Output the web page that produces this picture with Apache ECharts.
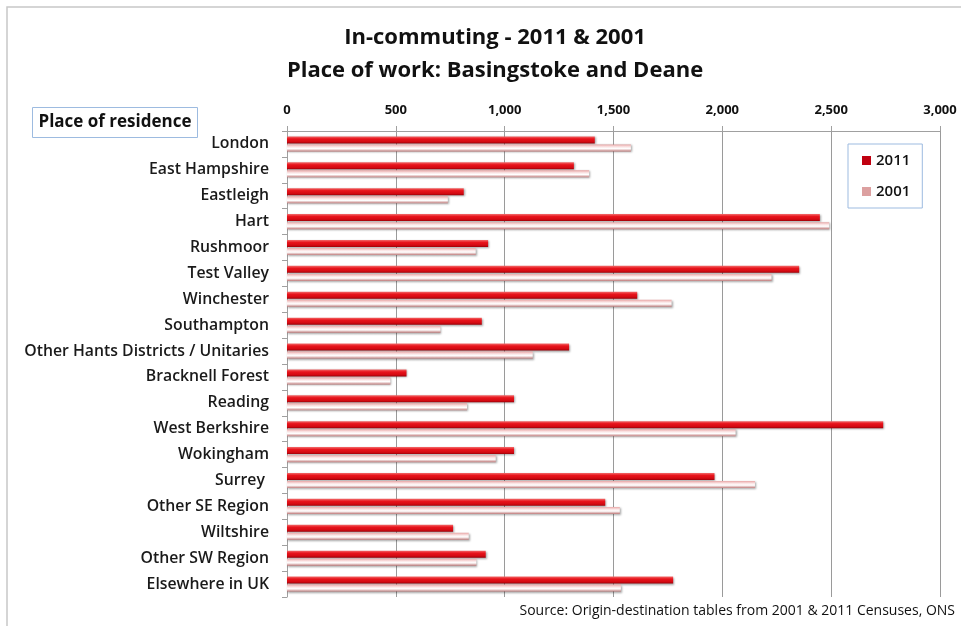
<!DOCTYPE html>
<html>
<head>
<meta charset="utf-8">
<script src="https://cdn.jsdelivr.net/npm/echarts@6/dist/echarts.min.js"></script>
<style>
  html, body { margin: 0; padding: 0; background: #ffffff; }
  #chart { width: 961px; height: 626px; }
</style>
</head>
<body>
<div id="chart"></div>
<script>
// Place of residence of people working in Basingstoke and Deane
var categories = [
  'London', 'East Hampshire', 'Eastleigh', 'Hart', 'Rushmoor', 'Test Valley',
  'Winchester', 'Southampton', 'Other Hants Districts / Unitaries', 'Bracknell Forest',
  'Reading', 'West Berkshire', 'Wokingham', 'Surrey ', 'Other SE Region',
  'Wiltshire', 'Other SW Region', 'Elsewhere in UK'
];
var values2011 = [1414, 1318, 812, 2448, 924, 2353, 1609, 895, 1296, 549, 1043, 2739, 1043, 1964, 1462, 763, 913, 1774];
var values2001 = [1580, 1388, 739, 2491, 867, 2226, 1767, 705, 1129, 475, 827, 2061, 959, 2150, 1529, 835, 870, 1534];
var axisTicks = [0, 500, 1000, 1500, 2000, 2500, 3000];

var FONT = '"Open Sans", Lato, sans-serif';

function fmt(v) {
  return v.toString().replace(/\B(?=(\d{3})+(?!\d))/g, ',');
}

var red2011 = new echarts.graphic.LinearGradient(0, 0, 0, 1, [
  { offset: 0, color: '#f26a6a' },
  { offset: 0.35, color: '#e8141c' },
  { offset: 0.75, color: '#d40a12' },
  { offset: 1, color: '#9c0008' }
]);
var pink2001 = new echarts.graphic.LinearGradient(0, 0, 0, 1, [
  { offset: 0, color: '#e9a7a7' },
  { offset: 0.35, color: '#fbe6e6' },
  { offset: 0.6, color: '#ffffff' },
  { offset: 1, color: '#c07a7a' }
]);

var chart = echarts.init(document.getElementById('chart'), null, { renderer: 'canvas' });

chart.setOption({
  animation: false,
  backgroundColor: '#ffffff',
  title: {
    text: 'In-commuting - 2011 & 2001\nPlace of work: Basingstoke and Deane',
    left: 490,
    textAlign: 'center',
    top: 16,
    textStyle: {
      fontFamily: FONT,
      fontSize: 22,
      fontWeight: 'bold',
      color: '#111',
      lineHeight: 33
    }
  },
  legend: {
    orient: 'vertical',
    left: 848,
    top: 144,
    width: 79,
    padding: [9, 12, 9, 14],
    itemGap: 16,
    itemWidth: 9,
    itemHeight: 9,
    borderColor: '#9dbbe0',
    borderWidth: 1,
    icon: 'rect',
    data: [
      { name: '2011', itemStyle: { color: '#c00010' } },
      { name: '2001', itemStyle: { color: '#dca0a0' } }
    ],
    textStyle: { fontFamily: FONT, fontSize: 15, fontWeight: 600, color: '#111' }
  },
  grid: { left: 287, right: 21, top: 131, bottom: 29, containLabel: false },
  xAxis: {
    type: 'value',
    position: 'top',
    min: 0,
    max: 3000,
    interval: 500,
    axisLine: { show: true, lineStyle: { color: '#a0a0a0', width: 1 } },
    axisTick: { show: true, length: 5, lineStyle: { color: '#a0a0a0' } },
    splitLine: { show: true, lineStyle: { color: '#9a9a9a', width: 1 } },
    axisLabel: {
      margin: 14,
      fontFamily: FONT,
      fontSize: 13,
      fontWeight: 'bold',
      color: '#111',
      formatter: function (v) { return axisTicks.indexOf(v) >= 0 ? fmt(v) : ''; }
    }
  },
  yAxis: {
    type: 'category',
    inverse: true,
    data: categories,
    axisLine: { show: true, lineStyle: { color: '#a0a0a0', width: 1 } },
    axisTick: { show: true, length: 5, lineStyle: { color: '#a0a0a0' } },
    axisLabel: {
      margin: 18,
      fontFamily: FONT,
      fontSize: 15.8,
      fontWeight: 600,
      color: '#1a1a1a'
    }
  },
  series: [
    {
      name: '2011',
      type: 'bar',
      data: values2011,
      barWidth: 7,
      barGap: '15%',
      itemStyle: {
        color: red2011,
        shadowColor: 'rgba(0,0,0,0.35)',
        shadowBlur: 2,
        shadowOffsetX: 1,
        shadowOffsetY: 1
      }
    },
    {
      name: '2001',
      type: 'bar',
      data: values2001,
      barWidth: 7,
      itemStyle: {
        color: pink2001,
        shadowColor: 'rgba(0,0,0,0.35)',
        shadowBlur: 2,
        shadowOffsetX: 1,
        shadowOffsetY: 1
      }
    }
  ],
  graphic: [
    // outer frame of the chart area
    {
      type: 'rect',
      shape: { x: 7, y: 7, width: 980, height: 640 },
      style: { fill: null, stroke: '#c8c8c8', lineWidth: 1.5 },
      silent: true
    },
    // heading box for the category labels
    {
      type: 'group',
      left: 32,
      top: 107,
      children: [
        {
          type: 'rect',
          shape: { x: 0, y: 0, width: 165, height: 30 },
          style: { fill: '#ffffff', stroke: '#9dbbe0', lineWidth: 1 }
        },
        {
          type: 'text',
          x: 82.5,
          y: 15,
          style: {
            text: 'Place of residence',
            fill: '#111',
            font: 'bold 17px ' + FONT,
            align: 'center',
            verticalAlign: 'middle'
          }
        }
      ]
    },
    {
      type: 'text',
      right: 6,
      top: 604,
      style: {
        text: 'Source: Origin-destination tables from 2001 & 2011 Censuses, ONS',
        fill: '#111',
        font: '14px ' + FONT
      }
    }
  ]
});
</script>
</body>
</html>
